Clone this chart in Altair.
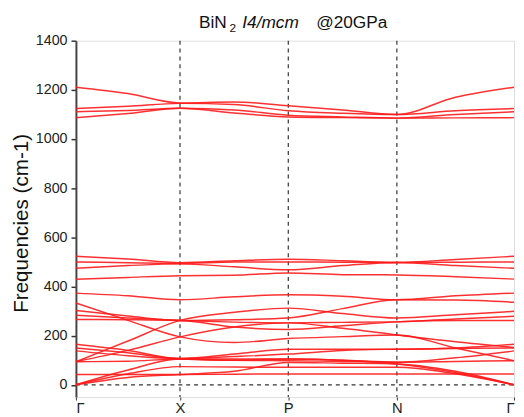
import altair as alt
import pandas as pd

# High-symmetry path (positions along k-path, arbitrary units)
kpath_names = ["Γ", "X", "P", "N", "Γ"]
kpath_pos = [0, 105.7, 215.7, 326, 445]
# sample positions: Γ, mid, X, mid, P, mid, N, mid, Γ
sample_pos = [0, 52.85, 105.7, 160.7, 215.7, 270.85, 326, 385.5, 445]

# Phonon branches (cm-1) read at sample positions
H1 = [1211, 1185, 1147, 1151, 1135, 1118, 1100, 1170, 1211]
H2 = [1124, 1133, 1145, 1140, 1115, 1105, 1100, 1115, 1124]
H3 = [1111, 1116, 1125, 1118, 1097, 1090, 1085, 1100, 1111]
H4 = [1087, 1104, 1125, 1106, 1090, 1087, 1085, 1086, 1087]
M1 = [523, 512, 497, 505, 511, 505, 498, 510, 523]
M2 = [500, 497, 494, 500, 500, 499, 498, 499, 500]
M3 = [474, 485, 492, 480, 468, 485, 498, 485, 474]
M4 = [429, 437, 444, 446, 455, 448, 447, 440, 430]
L1 = [373, 362, 346, 358, 366, 360, 346, 362, 373]
L2 = [333, 262, 195, 172, 188, 196, 203, 150, 98]
L3 = [302, 280, 262, 265, 272, 310, 346, 345, 336]
L4 = [283, 272, 262, 255, 252, 254, 256, 268, 279]
L5 = [266, 265, 262, 235, 225, 240, 256, 262, 262]
L6 = [94, 178, 262, 295, 312, 290, 272, 285, 299]
L7 = [94, 140, 195, 235, 252, 230, 203, 175, 152]
L8 = [165, 140, 107, 125, 145, 145, 145, 150, 165]
L9 = [150, 130, 107, 115, 125, 140, 145, 148, 150]
L10 = [138, 118, 105, 100, 105, 100, 92, 110, 138]
L11 = [94, 96, 105, 100, 98, 95, 92, 95, 98]
L12 = [42, 42, 42, 43, 44, 44, 44, 44, 44]
A1 = [0, 45, 74, 72, 71, 71, 71, 45, 0]
A2 = [0, 30, 42, 55, 91, 88, 85, 55, 0]
A3 = [0, 60, 105, 105, 105, 100, 85, 50, 0]

bands = {"H1": H1, "H2": H2, "H3": H3, "H4": H4, "M1": M1, "M2": M2,
         "M3": M3, "M4": M4, "L1": L1, "L2": L2, "L3": L3, "L4": L4,
         "L5": L5, "L6": L6, "L7": L7, "L8": L8, "L9": L9, "L10": L10,
         "L11": L11, "L12": L12, "A1": A1, "A2": A2, "A3": A3}

rows = []
for name, vals in bands.items():
    for i, (k, v) in enumerate(zip(sample_pos, vals)):
        rows.append({"band": name, "k": k, "freq": v, "i": i})
df = pd.DataFrame(rows)

y_ticks = [0, 200, 400, 600, 800, 1000, 1200, 1400]

label_expr = ("datum.value < 1 ? 'Γ' : datum.value < 110 ? 'X' : "
              "datum.value < 220 ? 'P' : datum.value < 330 ? 'N' : 'Γ'")

xscale = alt.Scale(domain=[0, 445], nice=False, zero=False)
yscale = alt.Scale(domain=[-50, 1400], nice=False, zero=False)

lines = alt.Chart(df).mark_line(
    color="#ff1a1a", strokeWidth=1.5, opacity=0.9, interpolate="monotone", clip=True
).encode(
    x=alt.X("k:Q", scale=xscale, axis=alt.Axis(
        values=kpath_pos, labelExpr=label_expr, title=None, grid=False,
        tickSize=3, labelFontSize=15, labelColor="#222", labelFont="Liberation Sans",
        domain=False, tickColor="#333", labelPadding=1)),
    y=alt.Y("freq:Q", scale=yscale, axis=alt.Axis(
        values=y_ticks, format="d", title="Frequencies (cm-1)", grid=False, tickSize=5,
        labelFontSize=14.5, labelColor="#222", labelFont="Liberation Sans",
        labelFontWeight="normal", titleFontSize=21, titleFont="Liberation Sans",
        titleFontWeight="normal", titleColor="#111", titleX=-55, titleY=185,
        titleAngle=-90, titleAlign="center", titleBaseline="middle",
        domainColor="#444", domainWidth=2, tickColor="#333", tickWidth=1.5,
        labelPadding=4)),
    detail="band:N",
    order="i:Q",
)

vdf = pd.DataFrame({"k": kpath_pos[1:4]})
vrules = alt.Chart(vdf).mark_rule(color="#333", strokeDash=[4, 4], strokeWidth=1.2).encode(
    x=alt.X("k:Q", scale=xscale), y=alt.value(0), y2=alt.value(362))

hdf = pd.DataFrame({"f": [0]})
hrule = alt.Chart(hdf).mark_rule(color="#333", strokeDash=[4, 4], strokeWidth=1.2).encode(
    y=alt.Y("f:Q", scale=yscale), x=alt.value(0), x2=alt.value(445))

t1 = alt.Chart(pd.DataFrame({"t": ["BiN"]})).mark_text(
    align="left", baseline="alphabetic", fontSize=17.5, font="Liberation Sans", color="#111"
).encode(text="t:N", x=alt.value(125), y=alt.value(-13))
t2 = alt.Chart(pd.DataFrame({"t": ["2"]})).mark_text(
    align="left", baseline="alphabetic", fontSize=12, font="Liberation Sans", color="#111"
).encode(text="t:N", x=alt.value(156), y=alt.value(-9))
t3 = alt.Chart(pd.DataFrame({"t": ["I4/mcm"]})).mark_text(
    align="left", baseline="alphabetic", fontSize=17.5, font="Liberation Sans",
    fontStyle="italic", color="#111"
).encode(text="t:N", x=alt.value(169), y=alt.value(-13))
t4 = alt.Chart(pd.DataFrame({"t": ["@20GPa"]})).mark_text(
    align="left", baseline="alphabetic", fontSize=17.5, font="Liberation Sans", color="#111"
).encode(text="t:N", x=alt.value(244), y=alt.value(-13))

chart = alt.layer(vrules, hrule, lines, t1, t2, t3, t4).properties(
    width=445, height=362,
    autosize=alt.AutoSizeParams(type="none"),
    padding={"left": 69, "top": 30, "right": 2, "bottom": 17},
).configure_view(stroke="#333", strokeWidth=1.2).configure(background="white")

chart.save("out.html", embed_options={"renderer": "svg", "actions": False})
